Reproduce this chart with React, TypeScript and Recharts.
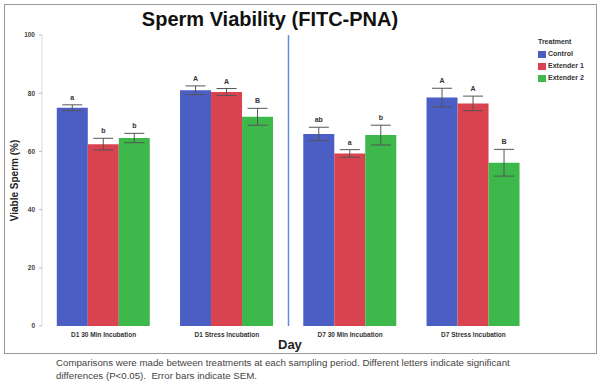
import { BarChart, Bar, XAxis, YAxis, ErrorBar, LabelList, ReferenceLine } from "recharts";

const categories = [
  "D1 30 Min Incubation",
  "D1 Stress Incubation",
  "D7 30 Min Incubation",
  "D7 Stress Incubation",
];
const control = [75, 81, 66, 78.5];
const extender1 = [62.5, 80.4, 59.3, 76.5];
const extender2 = [64.6, 71.9, 65.6, 56.1];
const controlSem = [1, 1.5, 2.3, 3.2];
const extender1Sem = [2, 1.2, 1.3, 2.5];
const extender2Sem = [1.6, 2.9, 3.4, 4.6];
const controlLetters = ["a", "A", "ab", "A"];
const extender1Letters = ["b", "A", "a", "A"];
const extender2Letters = ["b", "B", "b", "B"];
const yTicks = [0, 20, 40, 60, 80, 100];

const BLUE = "#4a5ec4";
const RED = "#d9434f";
const GREEN = "#3db84a";

const data = categories.map((day, i) => ({
  day,
  control: control[i],
  extender1: extender1[i],
  extender2: extender2[i],
  controlSem: controlSem[i],
  extender1Sem: extender1Sem[i],
  extender2Sem: extender2Sem[i],
}));

const legendItems = [
  { name: "Control", color: BLUE },
  { name: "Extender 1", color: RED },
  { name: "Extender 2", color: GREEN },
];

const font = "'Liberation Sans', Arial, sans-serif";

const letterLabel = (letters: string[], sems: number[], values: number[]) => (props: any) => {
  const { x, y, width, height, index } = props;
  const pxPerUnit = height / values[index];
  const top = y - sems[index] * pxPerUnit;
  return (
    <text x={x + width / 2} y={top - 5} textAnchor="middle" fontSize={7} fontWeight="bold" fill="#333" fontFamily={font}>
      {letters[index]}
    </text>
  );
};

export default function App() {
  return (
    <div style={{ position: "absolute", left: 0, top: 0, width: 600, height: 390, background: "#fff", fontFamily: font }}>
      <div style={{ position: "absolute", left: 4, top: 4, width: 591, height: 348, border: "1px solid #999" }} />
      <div style={{ position: "absolute", left: 0, width: 540, top: 8, textAlign: "center", fontSize: 20, fontWeight: "bold", color: "#111" }}>
        Sperm Viability (FITC-PNA)
      </div>
      <BarChart
        width={600}
        height={390}
        data={data}
        margin={{ top: 35, right: 65, bottom: 44, left: 12 }}
        barCategoryGap="12%"
        barGap={0}
      >
        <XAxis
          dataKey="day"
          axisLine={false}
          tickLine={false}
          height={20}
          tick={{ fontSize: 6.5, fontWeight: "bold", fill: "#333", fontFamily: font }}
          tickMargin={0}
          interval={0}
        />
        <YAxis
          domain={[0, 100]}
          ticks={yTicks}
          width={30}
          axisLine={{ stroke: "#ddd" }}
          tickLine={{ stroke: "#bbb" }}
          tickSize={3}
          tickMargin={4}
          tick={{ fontSize: 6.5, fontWeight: "bold", fill: "#444", fontFamily: font }}
          label={{
            value: "Viable Sperm (%)",
            angle: -90,
            position: "insideLeft",
            offset: 2,
            style: { fontSize: 10, fontWeight: "bold", fill: "#222", fontFamily: font, textAnchor: "middle" },
          }}
        />
        <ReferenceLine x={categories[1]} position="end" stroke="#5b8fd9" strokeWidth={1.5} />
        <Bar dataKey="control" name="Control" fill={BLUE} isAnimationActive={false}>
          <ErrorBar dataKey="controlSem" width={10} stroke="#555" strokeWidth={1} />
          <LabelList dataKey="control" content={letterLabel(controlLetters, controlSem, control)} />
        </Bar>
        <Bar dataKey="extender1" name="Extender 1" fill={RED} isAnimationActive={false}>
          <ErrorBar dataKey="extender1Sem" width={10} stroke="#555" strokeWidth={1} />
          <LabelList dataKey="extender1" content={letterLabel(extender1Letters, extender1Sem, extender1)} />
        </Bar>
        <Bar dataKey="extender2" name="Extender 2" fill={GREEN} isAnimationActive={false}>
          <ErrorBar dataKey="extender2Sem" width={10} stroke="#555" strokeWidth={1} />
          <LabelList dataKey="extender2" content={letterLabel(extender2Letters, extender2Sem, extender2)} />
        </Bar>
      </BarChart>
      <div style={{ position: "absolute", left: 538, top: 36, fontSize: 7, fontWeight: "bold", color: "#333", lineHeight: "12px" }}>
        <div>Treatment</div>
        {legendItems.map((it) => (
          <div key={it.name} style={{ display: "flex", alignItems: "center" }}>
            <span style={{ width: 8, height: 7, background: it.color, marginRight: 2, display: "inline-block" }} />
            {it.name}
          </div>
        ))}
      </div>
      <div style={{ position: "absolute", left: 278, top: 337, fontSize: 13, fontWeight: "bold", color: "#222" }}>Day</div>
      <div style={{ position: "absolute", left: 56, top: 356, fontSize: 9.7, color: "#444", lineHeight: "13px" }}>
        <div>Comparisons were made between treatments at each sampling period. Different letters indicate significant</div>
        <div>differences (P&lt;0.05).&nbsp; Error bars indicate SEM.</div>
      </div>
    </div>
  );
}
